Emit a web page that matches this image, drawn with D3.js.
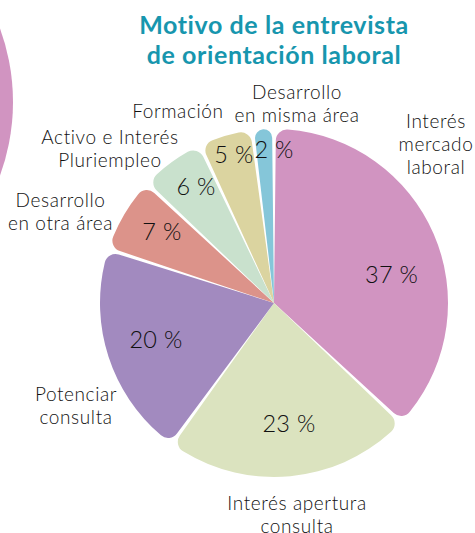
<!DOCTYPE html>
<html><head><meta charset="utf-8">
<script src="https://cdn.jsdelivr.net/npm/d3@7"></script>
<style>
html,body{margin:0;padding:0;background:#fff;}
svg{display:block;}
</style></head>
<body>
<script>
// ---- data ----
const categories = ["Interés mercado laboral","Interés apertura consulta","Potenciar consulta","Desarrollo en otra área","Activo e Interés Pluriempleo","Formación","Desarrollo en misma área"];
const values = [37, 23, 20, 7, 6, 5, 2];
const valueLabels = ["37 %","23 %","20 %","7 %","6 %","5 %","2 %"];
const nameLines = [["Interés","mercado","laboral"],["Interés apertura","consulta"],["Potenciar","consulta"],["Desarrollo","en otra área"],["Activo e Interés","Pluriempleo"],["Formación"],["Desarrollo","en misma área"]];
const colors = ["#d194c1","#dbe3bf","#a28abf","#dc938a","#c9e1cd","#dbd4a0","#85c6d9"];
const titleLines = ["Motivo de la entrevista","de orientación laboral"];

// ---- layout (label placement in polar coords: [angle deg, radius px]) ----
const W = 475, H = 533;
const cx = 274, cy = 303, R = 174;
const valuePolar = [[76.4,121],[172.9,121],[252.8,123.5],[302.6,133],[326.2,140],[344.9,154],[0,153.5]];
const namePolar = [[45.7,226.3],[173.8,213.2],[242.6,223],[293.0,231.9],[313.2,225],[333.4,214.7],[6.6,200.8]];

const svg = d3.select("body").append("svg").attr("width", W).attr("height", H);

// decorative partial circle at left edge
svg.append("circle").attr("cx", -201).attr("cy", 102).attr("r", 214).attr("fill", "#d194c1");

// title
svg.append("g").selectAll("text").data(titleLines).join("text")
  .attr("x", 274).attr("y", (d,i) => 34 + i*30)
  .attr("text-anchor", "middle")
  .attr("font-family", "Lato, 'Open Sans', sans-serif").attr("font-weight", 700)
  .attr("font-size", 25).attr("letter-spacing", 0.6).attr("fill", "#1796ae")
  .text(d => d);

const pie = d3.pie().value(d => d).sort(null).startAngle(0).endAngle(2*Math.PI);
const arcs = pie(values);
const arc = d3.arc().innerRadius(0).outerRadius(R).cornerRadius(11).padAngle(0.022).padRadius(R);

const g = svg.append("g").attr("transform", `translate(${cx},${cy})`);
g.selectAll("path").data(arcs).join("path")
  .attr("d", arc).attr("fill", (d,i) => colors[i]);

const polar = (a, r) => [r*Math.sin(a*Math.PI/180), -r*Math.cos(a*Math.PI/180)];

// value labels
g.selectAll("text.val").data(arcs).join("text").attr("class","val")
  .attr("transform", (d,i) => `translate(${polar(valuePolar[i][0], valuePolar[i][1])})`)
  .attr("dy", "0.36em").attr("text-anchor", "middle")
  .attr("font-family", "Lato, sans-serif").attr("font-weight", 300)
  .attr("font-size", 23.5).attr("letter-spacing", 0.3).attr("fill", "#111")
  .text((d,i) => valueLabels[i]);

// category labels
const lh = 23;
const ng = g.selectAll("g.name").data(arcs).join("g").attr("class","name")
  .attr("transform", (d,i) => `translate(${polar(namePolar[i][0], namePolar[i][1])})`);
ng.each(function(d,i){
  const lines = nameLines[i];
  d3.select(this).selectAll("text").data(lines).join("text")
    .attr("y", (t,j) => (j - (lines.length-1)/2)*lh + 6.5)
    .attr("text-anchor", "middle")
    .attr("font-family", "Lato, sans-serif").attr("font-weight", 300)
    .attr("font-size", 19).attr("letter-spacing", 0.6).attr("fill", "#111")
    .text(t => t);
});
</script>
</body></html>
